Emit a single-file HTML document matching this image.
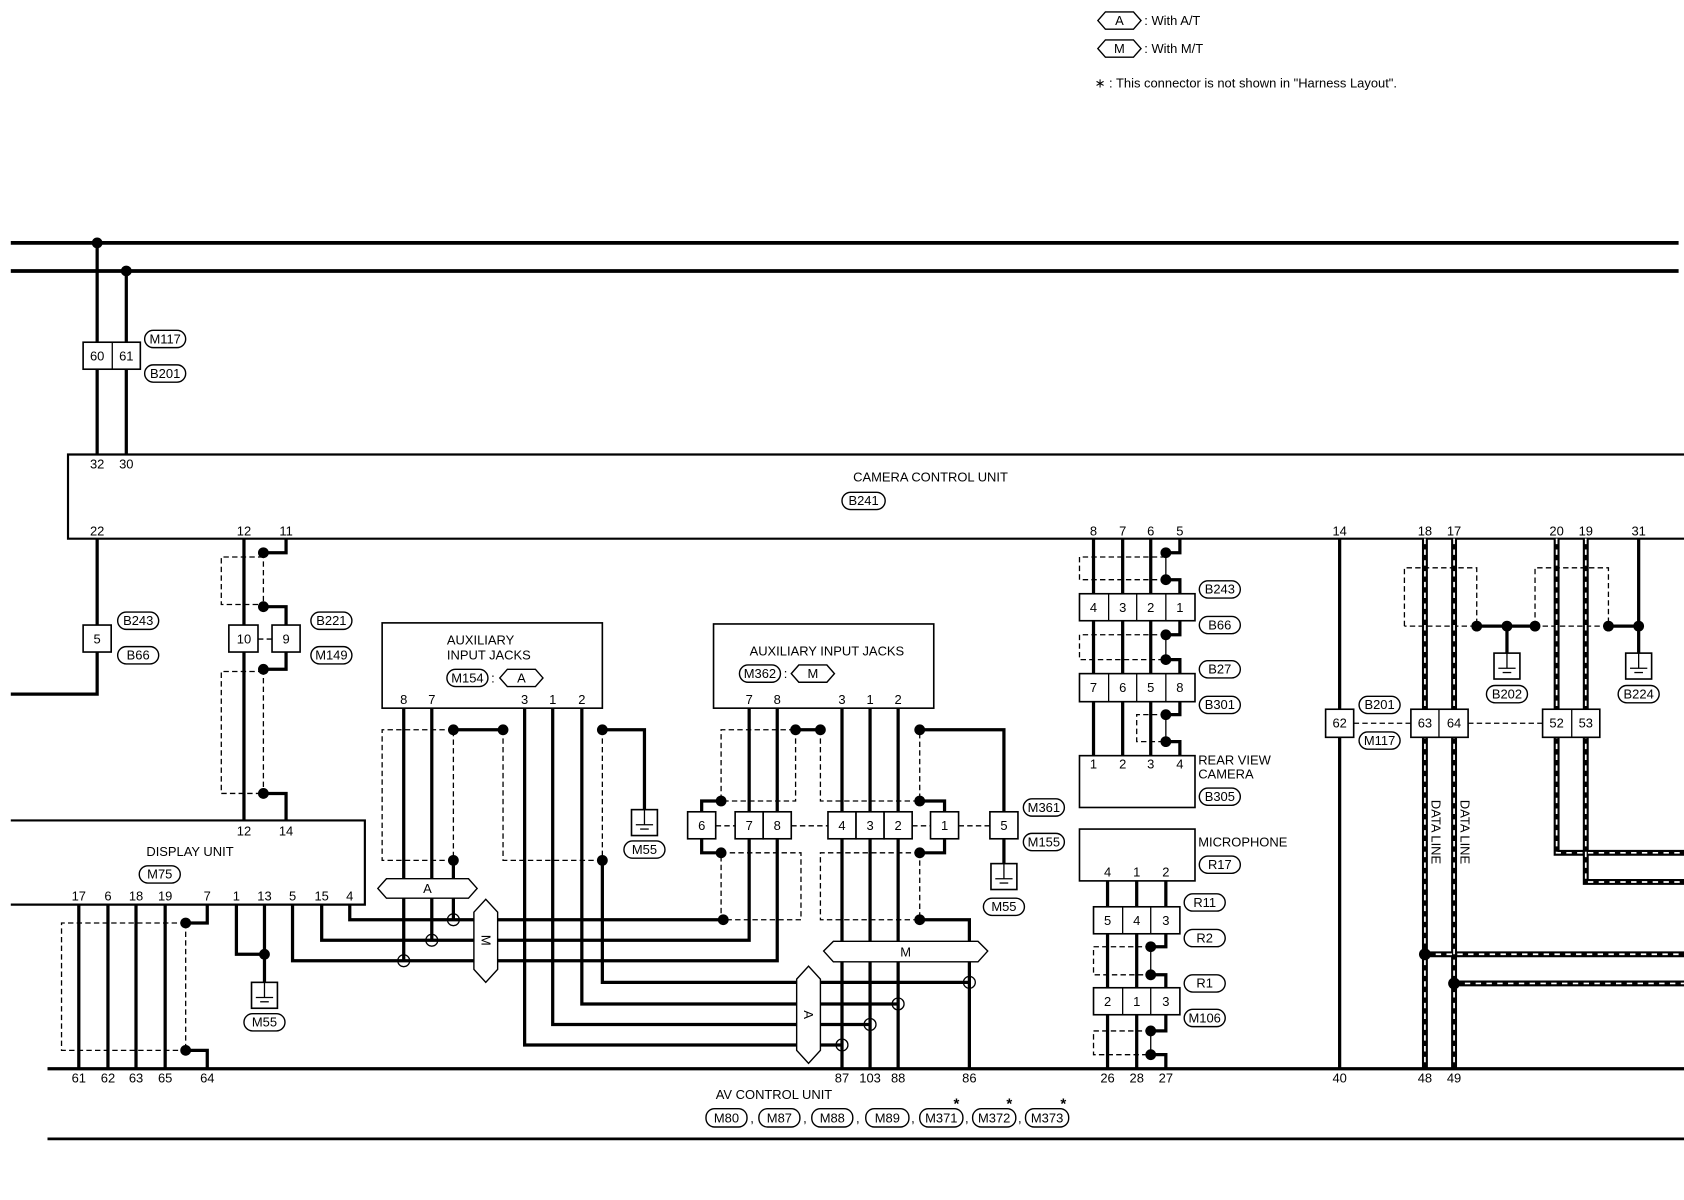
<!DOCTYPE html>
<html><head><meta charset="utf-8"><style>
html,body{margin:0;padding:0;background:#fff}
svg{display:block}
text{font-family:"Liberation Sans",sans-serif;font-size:12px;fill:#000}
.w{stroke:#000;stroke-width:3;fill:none}
.b{stroke:#000;stroke-width:3.5;fill:none}
.t{stroke:#000;stroke-width:1.2;fill:none}
.d{stroke:#000;stroke-width:1.2;fill:none;stroke-dasharray:5 3}
.bx{stroke:#000;stroke-width:1.5;fill:#fff}
.ov{stroke:#000;stroke-width:1.3;fill:#fff}
.dl{stroke:#fff;stroke-width:1.6;fill:none;stroke-dasharray:5 5}
.dlb{stroke:#000;stroke-width:5.5;fill:none}
</style></head><body>
<svg width="1684" height="1200" viewBox="0 0 1560 1111.6" xmlns="http://www.w3.org/2000/svg">
<defs>
<g id="gnd"><rect x="-12" y="0" width="24" height="24" class="bx"/><line x1="0" y1="0" x2="0" y2="14" class="t"/><line x1="-8" y1="14" x2="8" y2="14" class="t"/><line x1="-4" y1="18" x2="4" y2="18" class="t"/></g>
</defs>
<!-- legend -->
<polygon points="1017,19 1024,11 1050,11 1057,19 1050,27 1024,27" class="ov"/><text x="1037" y="23" text-anchor="middle">A</text>
<text x="1060" y="23">: With A/T</text>
<polygon points="1017,45 1024,37 1050,37 1057,45 1050,53 1024,53" class="ov"/><text x="1037" y="49" text-anchor="middle">M</text>
<text x="1060" y="49">: With M/T</text>
<text x="1014" y="81">∗ : This connector is not shown in "Harness Layout".</text>

<!-- buses -->
<line x1="10" y1="225" x2="1555" y2="225" class="b"/>
<line x1="10" y1="251" x2="1555" y2="251" class="b"/>
<circle cx="90" cy="225" r="5"/><circle cx="117" cy="251" r="5"/>
<line x1="90" y1="225" x2="90" y2="421" class="w"/>
<line x1="117" y1="251" x2="117" y2="421" class="w"/>
<rect x="77" y="317" width="53" height="25" class="bx"/><line x1="104" y1="317" x2="104" y2="342" class="t"/>
<text x="90" y="334" text-anchor="middle">60</text><text x="117" y="334" text-anchor="middle">61</text>
<rect x="134" y="306" width="38" height="16" rx="8" class="ov"/><text x="153" y="318" text-anchor="middle">M117</text>
<rect x="134" y="338" width="38" height="16" rx="8" class="ov"/><text x="153" y="350" text-anchor="middle">B201</text>

<!-- camera control unit -->
<path d="M1560 421 H63 V499 H1560" class="t" style="stroke-width:2"/>
<text x="90" y="434" text-anchor="middle">32</text><text x="117" y="434" text-anchor="middle">30</text>
<text x="862" y="446" text-anchor="middle">CAMERA CONTROL UNIT</text>
<rect x="780" y="456" width="40" height="16" rx="8" class="ov"/><text x="800" y="468" text-anchor="middle">B241</text>
<g text-anchor="middle">
<text x="90" y="496">22</text><text x="226" y="496">12</text><text x="265" y="496">11</text>
<text x="1013" y="496">8</text><text x="1040" y="496">7</text><text x="1066" y="496">6</text><text x="1093" y="496">5</text>
<text x="1241" y="496">14</text><text x="1320" y="496">18</text><text x="1347" y="496">17</text>
<text x="1442" y="496">20</text><text x="1469" y="496">19</text><text x="1518" y="496">31</text>
</g>

<!-- pin 22 -->
<path d="M90 499 V643 H10" class="w"/>
<rect x="77" y="579" width="26" height="25" class="bx"/><text x="90" y="596" text-anchor="middle">5</text>
<rect x="109" y="567" width="38" height="16" rx="8" class="ov"/><text x="128" y="579" text-anchor="middle">B243</text>
<rect x="109" y="599" width="38" height="16" rx="8" class="ov"/><text x="128" y="611" text-anchor="middle">B66</text>

<!-- pins 12 / 11 -->
<line x1="226" y1="499" x2="226" y2="760" class="w"/>
<path d="M265 499 V512 H244" class="w"/><circle cx="244" cy="512" r="5"/>
<line x1="244" y1="512" x2="244" y2="562" class="d"/><circle cx="244" cy="562" r="5"/>
<path d="M244 562 H265 V579" class="w"/>
<path d="M244 516 H205 V560 H244" class="d"/>
<rect x="212" y="579" width="27" height="25" class="bx"/><text x="226" y="596" text-anchor="middle">10</text>
<rect x="252" y="579" width="26" height="25" class="bx"/><text x="265" y="596" text-anchor="middle">9</text>
<line x1="239" y1="592" x2="252" y2="592" class="d"/>
<path d="M265 604 V620 H244" class="w"/><circle cx="244" cy="620" r="5"/>
<line x1="244" y1="620" x2="244" y2="735" class="d"/><circle cx="244" cy="735" r="5"/>
<path d="M244 735 H265 V760" class="w"/>
<path d="M244 622 H205 V735 H244" class="d"/>
<rect x="288" y="567" width="38" height="16" rx="8" class="ov"/><text x="307" y="579" text-anchor="middle">B221</text>
<rect x="288" y="599" width="38" height="16" rx="8" class="ov"/><text x="307" y="611" text-anchor="middle">M149</text>

<!-- display unit -->
<path d="M10 760 H338 V838 H10" class="t" style="stroke-width:2"/>
<text x="226" y="774" text-anchor="middle">12</text><text x="265" y="774" text-anchor="middle">14</text>
<text x="176" y="793" text-anchor="middle">DISPLAY UNIT</text>
<rect x="129" y="802" width="38" height="16" rx="8" class="ov"/><text x="148" y="814" text-anchor="middle">M75</text>
<g text-anchor="middle">
<text x="73" y="834">17</text><text x="100" y="834">6</text><text x="126" y="834">18</text><text x="153" y="834">19</text>
<text x="192" y="834">7</text><text x="219" y="834">1</text><text x="245" y="834">13</text><text x="271" y="834">5</text>
<text x="298" y="834">15</text><text x="324" y="834">4</text>
</g>
<line x1="73" y1="838" x2="73" y2="990" class="w"/><line x1="100" y1="838" x2="100" y2="990" class="w"/>
<line x1="126" y1="838" x2="126" y2="990" class="w"/><line x1="153" y1="838" x2="153" y2="990" class="w"/>
<path d="M192 838 V855 H172" class="w"/><circle cx="172" cy="855" r="5"/>
<line x1="172" y1="855" x2="172" y2="973" class="d"/><circle cx="172" cy="973" r="5"/>
<path d="M172 973 H192 V990" class="w"/>
<path d="M172 855 H57 V973 H172" class="d"/>
<path d="M219 838 V884 H245" class="w"/><line x1="245" y1="838" x2="245" y2="910" class="w"/><circle cx="245" cy="884" r="5"/>
<use href="#gnd" x="245" y="910"/>
<rect x="226" y="939" width="38" height="16" rx="8" class="ov"/><text x="245" y="951" text-anchor="middle">M55</text>

<!-- display wires to jacks -->
<path d="M324 838 V852 H670" class="w"/>
<path d="M298 838 V871 H694 V656" class="w"/>
<path d="M271 838 V890 H720 V656" class="w"/>

<!-- M154 jacks -->
<rect x="354" y="577" width="204" height="79" class="bx"/>
<text x="414" y="597">AUXILIARY</text><text x="414" y="611">INPUT JACKS</text>
<rect x="414" y="620" width="38" height="16" rx="8" class="ov"/><text x="433" y="632" text-anchor="middle">M154</text>
<text x="455" y="632">:</text>
<polygon points="463,628 470,620 496,620 503,628 496,636 470,636" class="ov"/><text x="483" y="632" text-anchor="middle">A</text>
<g text-anchor="middle"><text x="374" y="652">8</text><text x="400" y="652">7</text><text x="486" y="652">3</text><text x="512" y="652">1</text><text x="539" y="652">2</text></g>
<line x1="374" y1="656" x2="374" y2="890" class="w"/>
<line x1="400" y1="656" x2="400" y2="871" class="w"/>
<path d="M420 676 H466" class="w"/><circle cx="420" cy="676" r="5"/><circle cx="466" cy="676" r="5"/>
<path d="M420 676 H354 V797 H420 V676" class="d"/>
<circle cx="420" cy="797" r="5"/><line x1="420" y1="797" x2="420" y2="852" class="w"/>
<path d="M466 676 V797 H558" class="d"/><line x1="558" y1="676" x2="558" y2="797" class="d"/>
<circle cx="558" cy="676" r="5"/><circle cx="558" cy="797" r="5"/>
<path d="M558 676 H597 V750" class="w"/>
<use href="#gnd" x="597" y="750"/>
<rect x="578" y="779" width="38" height="16" rx="8" class="ov"/><text x="597" y="791" text-anchor="middle">M55</text>
<path d="M558 797 V910 H898" class="w"/>
<path d="M486 656 V968 H780" class="w"/>
<path d="M512 656 V949 H806" class="w"/>
<path d="M539 656 V930 H832" class="w"/>
<polygon points="350,823 358,814 434,814 442,823 434,832 358,832" class="ov"/><text x="396" y="827" text-anchor="middle">A</text>
<polygon points="439,845 450,833 461,845 461,898 450,910 439,898" class="ov"/><text x="450" y="875" text-anchor="middle" transform="rotate(90 450 871)">M</text>
<circle cx="420" cy="852" r="5.5" fill="#fff" class="t"/>
<circle cx="400" cy="871" r="5.5" fill="#fff" class="t"/>
<circle cx="374" cy="890" r="5.5" fill="#fff" class="t"/>

<!-- M362 jacks -->
<rect x="661" y="578" width="204" height="78" class="bx"/>
<text x="766" y="607" text-anchor="middle">AUXILIARY INPUT JACKS</text>
<rect x="685" y="616" width="38" height="16" rx="8" class="ov"/><text x="704" y="628" text-anchor="middle">M362</text>
<text x="726" y="628">:</text>
<polygon points="733,624 740,616 766,616 773,624 766,632 740,632" class="ov"/><text x="753" y="628" text-anchor="middle">M</text>
<g text-anchor="middle"><text x="694" y="652">7</text><text x="720" y="652">8</text><text x="780" y="652">3</text><text x="806" y="652">1</text><text x="832" y="652">2</text></g>
<line x1="737" y1="676" x2="760" y2="676" class="w"/><circle cx="737" cy="676" r="5"/><circle cx="760" cy="676" r="5"/>
<path d="M737 676 V742 H668 V676 H737" class="d"/>
<circle cx="668" cy="742" r="5"/><path d="M668 742 H650 V752" class="w"/>
<rect x="637" y="752" width="26" height="25" class="bx"/><text x="650" y="769" text-anchor="middle">6</text>
<path d="M650 777 V790 H668" class="w"/><circle cx="668" cy="790" r="5"/>
<path d="M668 790 H742 V852 H668 Z" class="d"/>
<circle cx="670" cy="852" r="5"/>
<path d="M760 676 V742 H852 V676" class="d"/>
<circle cx="852" cy="676" r="5"/><circle cx="852" cy="742" r="5"/>
<path d="M852 676 H930 V752" class="w"/>
<path d="M852 742 H875 V752" class="w"/>
<rect x="862" y="752" width="26" height="25" class="bx"/><text x="875" y="769" text-anchor="middle">1</text>
<path d="M875 777 V790 H852" class="w"/><circle cx="852" cy="790" r="5"/>
<path d="M852 790 H760 V852 H852 Z" class="d"/>
<circle cx="852" cy="852" r="5"/>
<path d="M852 852 H898 V990" class="w"/>
<rect x="917" y="752" width="26" height="25" class="bx"/><text x="930" y="769" text-anchor="middle">5</text>
<line x1="930" y1="777" x2="930" y2="800" class="w"/>
<use href="#gnd" x="930" y="800"/>
<rect x="911" y="832" width="38" height="16" rx="8" class="ov"/><text x="930" y="844" text-anchor="middle">M55</text>
<rect x="948" y="740" width="38" height="16" rx="8" class="ov"/><text x="967" y="752" text-anchor="middle">M361</text>
<rect x="948" y="772" width="38" height="16" rx="8" class="ov"/><text x="967" y="784" text-anchor="middle">M155</text>
<line x1="780" y1="656" x2="780" y2="990" class="w"/>
<line x1="806" y1="656" x2="806" y2="990" class="w"/>
<line x1="832" y1="656" x2="832" y2="990" class="w"/>
<rect x="681" y="752" width="26" height="25" class="bx"/><text x="694" y="769" text-anchor="middle">7</text>
<rect x="707" y="752" width="26" height="25" class="bx"/><text x="720" y="769" text-anchor="middle">8</text>
<rect x="767" y="752" width="26" height="25" class="bx"/><text x="780" y="769" text-anchor="middle">4</text>
<rect x="793" y="752" width="26" height="25" class="bx"/><text x="806" y="769" text-anchor="middle">3</text>
<rect x="819" y="752" width="26" height="25" class="bx"/><text x="832" y="769" text-anchor="middle">2</text>
<line x1="663" y1="765" x2="681" y2="765" class="d"/><line x1="733" y1="765" x2="767" y2="765" class="d"/>
<line x1="845" y1="765" x2="862" y2="765" class="d"/><line x1="888" y1="765" x2="917" y2="765" class="d"/>
<polygon points="763,881 772,872 906,872 915,881 906,891 772,891" class="ov"/><text x="839" y="886" text-anchor="middle">M</text>
<polygon points="738,907 749,895 760,907 760,973 749,985 738,973" class="ov"/><text x="749" y="944" text-anchor="middle" transform="rotate(90 749 940)">A</text>
<circle cx="898" cy="910" r="5.5" fill="#fff" class="t"/>
<circle cx="832" cy="930" r="5.5" fill="#fff" class="t"/>
<circle cx="806" cy="949" r="5.5" fill="#fff" class="t"/>
<circle cx="780" cy="968" r="5.5" fill="#fff" class="t"/>

<!-- rear view camera -->
<line x1="1013" y1="499" x2="1013" y2="700" class="w"/>
<line x1="1040" y1="499" x2="1040" y2="700" class="w"/>
<line x1="1066" y1="499" x2="1066" y2="700" class="w"/>
<path d="M1093 499 V512 H1080" class="w"/><circle cx="1080" cy="512" r="5"/>
<line x1="1080" y1="512" x2="1080" y2="537" class="t"/><circle cx="1080" cy="537" r="5"/>
<path d="M1080 537 H1093 V550" class="w"/>
<path d="M1080 516 H1000 V537 H1080" class="d"/>
<path d="M1093 575 V588 H1080" class="w"/><circle cx="1080" cy="588" r="5"/>
<line x1="1080" y1="588" x2="1080" y2="611" class="t"/><circle cx="1080" cy="611" r="5"/>
<path d="M1080 611 H1093 V624" class="w"/>
<path d="M1080 588 H1000 V611 H1080" class="d"/>
<path d="M1093 650 V662 H1080" class="w"/><circle cx="1080" cy="662" r="5"/>
<line x1="1080" y1="662" x2="1080" y2="687" class="t"/><circle cx="1080" cy="687" r="5"/>
<path d="M1080 687 H1093 V700" class="w"/>
<path d="M1080 662 H1053 V687 H1080" class="d"/>
<rect x="1000" y="550" width="107" height="25" class="bx"/>
<line x1="1027" y1="550" x2="1027" y2="575" class="t"/><line x1="1053" y1="550" x2="1053" y2="575" class="t"/><line x1="1080" y1="550" x2="1080" y2="575" class="t"/>
<g text-anchor="middle"><text x="1013" y="567">4</text><text x="1040" y="567">3</text><text x="1066" y="567">2</text><text x="1093" y="567">1</text></g>
<rect x="1000" y="624" width="107" height="26" class="bx"/>
<line x1="1027" y1="624" x2="1027" y2="650" class="t"/><line x1="1053" y1="624" x2="1053" y2="650" class="t"/><line x1="1080" y1="624" x2="1080" y2="650" class="t"/>
<g text-anchor="middle"><text x="1013" y="641">7</text><text x="1040" y="641">6</text><text x="1066" y="641">5</text><text x="1093" y="641">8</text></g>
<rect x="1111" y="538" width="38" height="16" rx="8" class="ov"/><text x="1130" y="550" text-anchor="middle">B243</text>
<rect x="1111" y="571" width="38" height="16" rx="8" class="ov"/><text x="1130" y="583" text-anchor="middle">B66</text>
<rect x="1111" y="612" width="38" height="16" rx="8" class="ov"/><text x="1130" y="624" text-anchor="middle">B27</text>
<rect x="1111" y="645" width="38" height="16" rx="8" class="ov"/><text x="1130" y="657" text-anchor="middle">B301</text>
<rect x="1000" y="700" width="107" height="48" class="bx"/>
<g text-anchor="middle"><text x="1013" y="712">1</text><text x="1040" y="712">2</text><text x="1066" y="712">3</text><text x="1093" y="712">4</text></g>
<text x="1110" y="708">REAR VIEW</text><text x="1110" y="721">CAMERA</text>
<rect x="1111" y="730" width="38" height="16" rx="8" class="ov"/><text x="1130" y="742" text-anchor="middle">B305</text>

<!-- microphone -->
<rect x="1000" y="768" width="107" height="48" class="bx"/>
<text x="1110" y="784">MICROPHONE</text>
<rect x="1111" y="793" width="38" height="16" rx="8" class="ov"/><text x="1130" y="805" text-anchor="middle">R17</text>
<g text-anchor="middle"><text x="1026" y="812">4</text><text x="1053" y="812">1</text><text x="1080" y="812">2</text></g>
<line x1="1026" y1="816" x2="1026" y2="990" class="w"/>
<line x1="1053" y1="816" x2="1053" y2="990" class="w"/>
<line x1="1080" y1="816" x2="1080" y2="840" class="w"/>
<path d="M1080 865 V877 H1066" class="w"/><circle cx="1066" cy="877" r="5"/>
<line x1="1066" y1="877" x2="1066" y2="903" class="t"/><circle cx="1066" cy="903" r="5"/>
<path d="M1066 903 H1080 V915" class="w"/>
<path d="M1066 877 H1013 V903 H1066" class="d"/>
<path d="M1080 940 V955 H1066" class="w"/><circle cx="1066" cy="955" r="5"/>
<line x1="1066" y1="955" x2="1066" y2="977" class="t"/><circle cx="1066" cy="977" r="5"/>
<path d="M1066 977 H1080 V990" class="w"/>
<path d="M1066 955 H1013 V977 H1066" class="d"/>
<rect x="1013" y="840" width="80" height="25" class="bx"/>
<line x1="1040" y1="840" x2="1040" y2="865" class="t"/><line x1="1066" y1="840" x2="1066" y2="865" class="t"/>
<g text-anchor="middle"><text x="1026" y="857">5</text><text x="1053" y="857">4</text><text x="1080" y="857">3</text></g>
<rect x="1013" y="915" width="80" height="25" class="bx"/>
<line x1="1040" y1="915" x2="1040" y2="940" class="t"/><line x1="1066" y1="915" x2="1066" y2="940" class="t"/>
<g text-anchor="middle"><text x="1026" y="932">2</text><text x="1053" y="932">1</text><text x="1080" y="932">3</text></g>
<rect x="1097" y="828" width="38" height="16" rx="8" class="ov"/><text x="1116" y="840" text-anchor="middle">R11</text>
<rect x="1097" y="861" width="38" height="16" rx="8" class="ov"/><text x="1116" y="873" text-anchor="middle">R2</text>
<rect x="1097" y="903" width="38" height="16" rx="8" class="ov"/><text x="1116" y="915" text-anchor="middle">R1</text>
<rect x="1097" y="935" width="38" height="16" rx="8" class="ov"/><text x="1116" y="947" text-anchor="middle">M106</text>

<!-- right side -->
<line x1="1241" y1="499" x2="1241" y2="990" class="w"/>
<path d="M1301 580 V526 H1368 V580 H1301" class="d"/>
<path d="M1422 580 V526 H1490 V580 H1422" class="d"/>
<path d="M1320 499 V990 M1347 499 V990 M1320 884 H1560 M1347 911 H1560 M1442 499 V790 H1560 M1469 499 V817 H1560" class="dlb"/>
<path d="M1320 499 V990 M1347 499 V990 M1320 884 H1560 M1347 911 H1560 M1442 499 V790 H1560 M1469 499 V817 H1560" class="dl"/>
<circle cx="1320" cy="884" r="5.5"/><circle cx="1347" cy="911" r="5.5"/>
<line x1="1368" y1="580" x2="1422" y2="580" class="w"/>
<circle cx="1368" cy="580" r="5"/><circle cx="1396" cy="580" r="5"/><circle cx="1422" cy="580" r="5"/>
<line x1="1396" y1="580" x2="1396" y2="605" class="w"/><use href="#gnd" x="1396" y="605"/>
<rect x="1377" y="635" width="38" height="16" rx="8" class="ov"/><text x="1396" y="647" text-anchor="middle">B202</text>
<line x1="1490" y1="580" x2="1518" y2="580" class="w"/>
<line x1="1518" y1="499" x2="1518" y2="605" class="w"/>
<circle cx="1490" cy="580" r="5"/><circle cx="1518" cy="580" r="5"/>
<use href="#gnd" x="1518" y="605"/>
<rect x="1499" y="635" width="38" height="16" rx="8" class="ov"/><text x="1518" y="647" text-anchor="middle">B224</text>
<line x1="1254" y1="670" x2="1307" y2="670" class="d"/><line x1="1360" y1="670" x2="1429" y2="670" class="d"/>
<rect x="1228" y="657" width="26" height="26" class="bx"/><text x="1241" y="674" text-anchor="middle">62</text>
<rect x="1307" y="657" width="53" height="26" class="bx"/><line x1="1333" y1="657" x2="1333" y2="683" class="t"/>
<text x="1320" y="674" text-anchor="middle">63</text><text x="1347" y="674" text-anchor="middle">64</text>
<rect x="1429" y="657" width="53" height="26" class="bx"/><line x1="1456" y1="657" x2="1456" y2="683" class="t"/>
<text x="1442" y="674" text-anchor="middle">52</text><text x="1469" y="674" text-anchor="middle">53</text>
<rect x="1259" y="645" width="38" height="16" rx="8" class="ov"/><text x="1278" y="657" text-anchor="middle">B201</text>
<rect x="1259" y="678" width="38" height="16" rx="8" class="ov"/><text x="1278" y="690" text-anchor="middle">M117</text>
<text x="1326" y="741" transform="rotate(90 1326 741)">DATA LINE</text>
<text x="1353" y="741" transform="rotate(90 1353 741)">DATA LINE</text>

<!-- AV control unit -->
<line x1="44" y1="990" x2="1560" y2="990" class="w"/>
<line x1="44" y1="1055" x2="1560" y2="1055" class="w" style="stroke-width:2.5"/>
<g text-anchor="middle">
<text x="73" y="1003">61</text><text x="100" y="1003">62</text><text x="126" y="1003">63</text><text x="153" y="1003">65</text><text x="192" y="1003">64</text>
<text x="780" y="1003">87</text><text x="806" y="1003">103</text><text x="832" y="1003">88</text><text x="898" y="1003">86</text>
<text x="1026" y="1003">26</text><text x="1053" y="1003">28</text><text x="1080" y="1003">27</text>
<text x="1241" y="1003">40</text><text x="1320" y="1003">48</text><text x="1347" y="1003">49</text>
</g>
<text x="717" y="1018" text-anchor="middle">AV CONTROL UNIT</text>
<rect x="654" y="1027" width="38" height="17" rx="8" class="ov"/><text x="673" y="1040" text-anchor="middle">M80</text>
<text x="695" y="1040">,</text>
<rect x="703" y="1027" width="38" height="17" rx="8" class="ov"/><text x="722" y="1040" text-anchor="middle">M87</text>
<text x="744" y="1040">,</text>
<rect x="752" y="1027" width="38" height="17" rx="8" class="ov"/><text x="771" y="1040" text-anchor="middle">M88</text>
<text x="793" y="1040">,</text>
<rect x="802" y="1027" width="40" height="17" rx="8" class="ov"/><text x="822" y="1040" text-anchor="middle">M89</text>
<text x="844" y="1040">,</text>
<rect x="852" y="1027" width="40" height="17" rx="8" class="ov"/><text x="872" y="1040" text-anchor="middle">M371</text>
<text x="894" y="1040">,</text>
<rect x="901" y="1027" width="40" height="17" rx="8" class="ov"/><text x="921" y="1040" text-anchor="middle">M372</text>
<text x="943" y="1040">,</text>
<rect x="950" y="1027" width="40" height="17" rx="8" class="ov"/><text x="970" y="1040" text-anchor="middle">M373</text>
<text x="886" y="1027" text-anchor="middle" style="font-size:14px;font-weight:bold">*</text>
<text x="935" y="1027" text-anchor="middle" style="font-size:14px;font-weight:bold">*</text>
<text x="985" y="1027" text-anchor="middle" style="font-size:14px;font-weight:bold">*</text>
</svg>
</body></html>
